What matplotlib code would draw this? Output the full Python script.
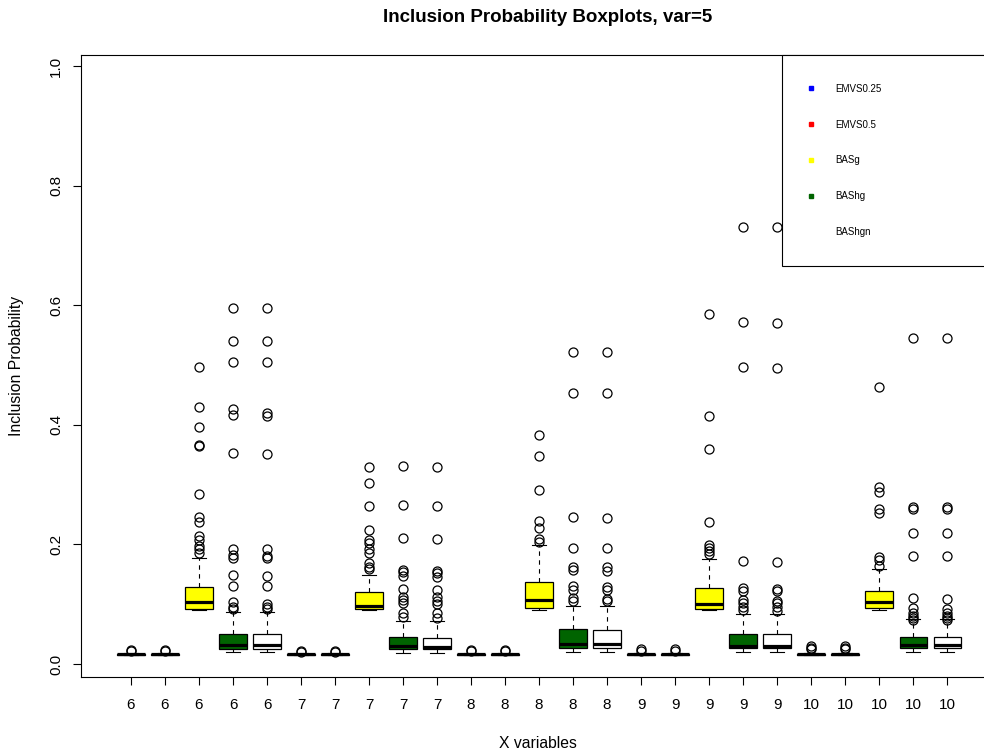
"""
Inclusion probability boxplots for variables 6-10 under five methods.
"""

import matplotlib.pyplot as plt
from matplotlib.lines import Line2D

plt.rcParams["font.family"] = ["Liberation Sans", "DejaVu Sans"]

methods = ["EMVS0.25", "EMVS0.5", "BASg", "BAShg", "BAShgn"]
fill_colors = ["blue", "red", "yellow", "darkgreen", "white"]
variables = [6, 7, 8, 9, 10]

# Box statistics, one entry per (variable, method), variables outermost.
q1 = [0.0155, 0.0155, 0.0925, 0.0256, 0.0256,
      0.0155, 0.0155, 0.0925, 0.0256, 0.0256,
      0.0155, 0.0155, 0.0936, 0.0260, 0.0260,
      0.0155, 0.0155, 0.0925, 0.0260, 0.0260,
      0.0155, 0.0155, 0.0936, 0.0273, 0.0273]
med = [0.0163, 0.0163, 0.104, 0.032, 0.031,
       0.0163, 0.0163, 0.097, 0.030, 0.029,
       0.0163, 0.0163, 0.1065, 0.0334, 0.033,
       0.0163, 0.0163, 0.100, 0.0306, 0.030,
       0.0163, 0.0163, 0.104, 0.031, 0.031]
q3 = [0.017, 0.017, 0.128, 0.050, 0.050,
      0.017, 0.017, 0.120, 0.0447, 0.044,
      0.017, 0.017, 0.137, 0.058, 0.057,
      0.017, 0.017, 0.127, 0.050, 0.050,
      0.017, 0.017, 0.1215, 0.0457, 0.0446]
whislo = [0.0148, 0.0148, 0.091, 0.0196, 0.0196,
          0.0148, 0.0148, 0.091, 0.019, 0.019,
          0.0148, 0.0148, 0.091, 0.0206, 0.0206,
          0.0148, 0.0148, 0.091, 0.020, 0.020,
          0.0148, 0.0148, 0.091, 0.0206, 0.0206]
whishi = [0.0185, 0.0185, 0.178, 0.0865, 0.0865,
          0.0185, 0.0185, 0.149, 0.072, 0.072,
          0.0185, 0.0185, 0.1985, 0.097, 0.097,
          0.0185, 0.0185, 0.176, 0.083, 0.083,
          0.0185, 0.0185, 0.159, 0.0747, 0.0747]
fliers = [
    # variable 6
    [0.021, 0.023],
    [0.021, 0.023],
    [0.497, 0.430, 0.396, 0.367, 0.365, 0.284, 0.246, 0.238, 0.214,
     0.207, 0.198, 0.193, 0.186],
    [0.596, 0.540, 0.505, 0.426, 0.416, 0.353, 0.193, 0.182, 0.178,
     0.149, 0.131, 0.103, 0.096, 0.0925],
    [0.595, 0.540, 0.505, 0.420, 0.414, 0.352, 0.192, 0.181, 0.178,
     0.148, 0.131, 0.101, 0.096, 0.092],
    # variable 7
    [0.020, 0.021],
    [0.020, 0.021],
    [0.330, 0.302, 0.264, 0.224, 0.207, 0.203, 0.193, 0.186, 0.169,
     0.163, 0.159],
    [0.331, 0.266, 0.210, 0.157, 0.154, 0.147, 0.125, 0.1125, 0.107,
     0.1015, 0.086, 0.078],
    [0.330, 0.265, 0.209, 0.156, 0.153, 0.146, 0.124, 0.112, 0.106,
     0.100, 0.085, 0.077],
    # variable 8
    [0.022, 0.024],
    [0.022, 0.024],
    [0.383, 0.348, 0.291, 0.239, 0.228, 0.2085, 0.2045],
    [0.522, 0.454, 0.246, 0.1945, 0.163, 0.157, 0.130, 0.124, 0.110,
     0.106],
    [0.522, 0.453, 0.245, 0.194, 0.162, 0.156, 0.129, 0.123, 0.109,
     0.105],
    # variable 9
    [0.021, 0.0245],
    [0.021, 0.0245],
    [0.585, 0.415, 0.360, 0.237, 0.199, 0.1945, 0.1895, 0.184],
    [0.730, 0.572, 0.496, 0.172, 0.1266, 0.1226, 0.107, 0.1025, 0.096,
     0.090],
    [0.730, 0.571, 0.495, 0.171, 0.126, 0.122, 0.106, 0.102, 0.095,
     0.089],
    # variable 10
    [0.0246, 0.026, 0.030],
    [0.0246, 0.026, 0.030],
    [0.463, 0.2965, 0.287, 0.259, 0.252, 0.179, 0.174, 0.164],
    [0.546, 0.262, 0.259, 0.2185, 0.181, 0.110, 0.093, 0.085, 0.080,
     0.077, 0.074],
    [0.545, 0.262, 0.259, 0.2185, 0.180, 0.109, 0.092, 0.085, 0.080,
     0.077, 0.074],
]

tick_labels = [str(v) for v in variables for _ in methods]
box_colors = [c for _ in variables for c in fill_colors]
positions = list(range(1, len(tick_labels) + 1))

stats = []
for i, lab in enumerate(tick_labels):
    stats.append({
        "label": lab,
        "q1": q1[i], "med": med[i], "q3": q3[i],
        "whislo": whislo[i], "whishi": whishi[i],
        "fliers": fliers[i],
    })

fig = plt.figure(figsize=(9.84, 7.53), dpi=100)
ax = fig.add_axes([81 / 984, 76 / 753, 928 / 984, 622 / 753])

bp = ax.bxp(
    stats,
    positions=positions,
    widths=0.8,
    capwidths=0.4,
    patch_artist=True,
    boxprops=dict(edgecolor="black", linewidth=0.9),
    medianprops=dict(color="black", linewidth=2.3, solid_capstyle="butt"),
    whiskerprops=dict(color="black", linewidth=0.8, linestyle=(0, (4, 4))),
    capprops=dict(color="black", linewidth=0.8),
    flierprops=dict(marker="o", markerfacecolor="none",
                    markeredgecolor="black", markersize=6.5,
                    markeredgewidth=0.9),
)
for patch, color in zip(bp["boxes"], box_colors):
    patch.set_facecolor(color)

ax.set_xlim(-0.47, 26.82)
ax.set_ylim(-0.0217, 1.0184)
ax.set_xticks(positions)
ax.set_xticklabels(tick_labels)
ax.set_yticks([0.0, 0.2, 0.4, 0.6, 0.8, 1.0])
ax.set_yticklabels(["0.0", "0.2", "0.4", "0.6", "0.8", "1.0"],
                   rotation=90, va="center")
ax.tick_params(axis="both", direction="out", length=5.8, width=0.8,
               labelsize=11)
ax.tick_params(axis="x", pad=9)
ax.tick_params(axis="y", pad=7)
for side in ax.spines.values():
    side.set_linewidth(0.8)
    side.set_color("black")

fig.text(548 / 984, 1 - 17 / 753, "Inclusion Probability Boxplots, var=5",
         ha="center", va="center", fontsize=13.5, fontweight="bold")
fig.text(538 / 984, 1 - 743 / 753, "X variables",
         ha="center", va="center", fontsize=11.3)
fig.text(17 / 984, 1 - 366 / 753, "Inclusion Probability",
         ha="center", va="center", rotation=90, fontsize=11.3)

handles = [Line2D([], [], marker="s", linestyle="none", color=c,
                  markersize=3.5) for c in fill_colors]
leg = ax.legend(
    handles, methods,
    loc="upper left",
    bbox_to_anchor=(782 / 984, 0.0, 0.25, 1 - 55 / 753),
    bbox_transform=fig.transFigure,
    mode="expand",
    fontsize=7,
    frameon=True,
    fancybox=False,
    framealpha=1,
    borderpad=2.95,
    labelspacing=2.66,
    handlelength=0.0,
    handletextpad=2.55,
    borderaxespad=0,
)
leg.get_frame().set_edgecolor("black")
leg.get_frame().set_linewidth(0.8)

fig.savefig("out.png", dpi=100)
